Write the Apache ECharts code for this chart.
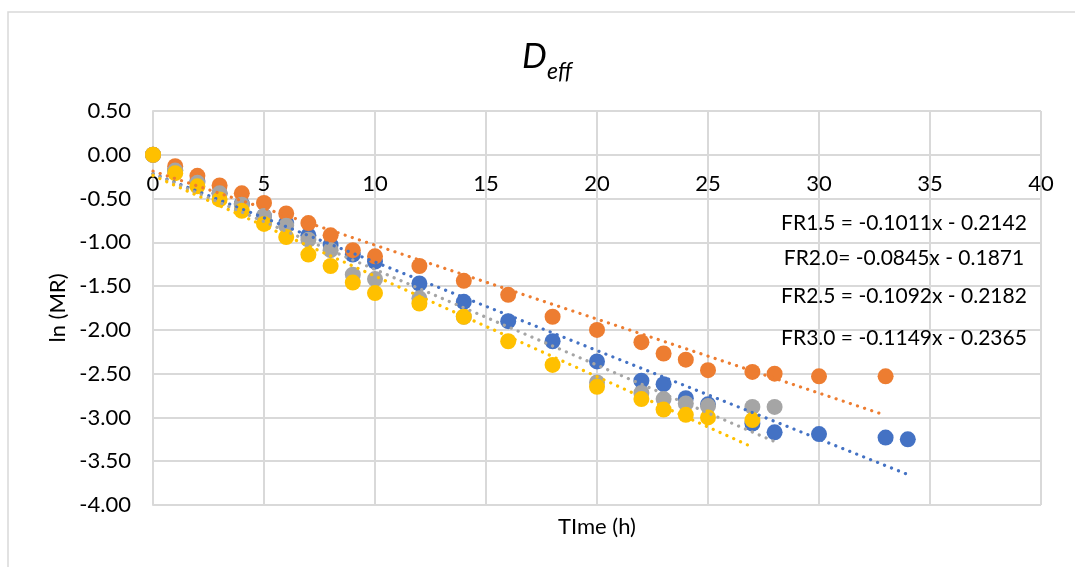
<!DOCTYPE html>
<html>
<head>
<meta charset="utf-8">
<script src="https://cdn.jsdelivr.net/npm/echarts@6/dist/echarts.min.js"></script>
<style>
  html, body { margin: 0; padding: 0; background: #ffffff; }
  #chart { width: 1075px; height: 567px; }
</style>
</head>
<body>
<div id="chart"></div>
<script>
// Drying runs: ln(MR) against time for four flow rates
const seriesNames = ['FR1.5', 'FR2.0', 'FR2.5', 'FR3.0'];
const seriesColors = ['#4472C4', '#ED7D31', '#A5A5A5', '#FFC000'];

const timeFR15 = [0, 1, 2, 3, 4, 5, 6, 7, 8, 9, 10, 12, 14, 16, 18, 20, 22, 23, 24, 25, 27, 28, 30, 33, 34];
const lnMRFR15 = [0, -0.18, -0.30, -0.44, -0.56, -0.70, -0.78, -0.92, -1.03, -1.14, -1.22, -1.47, -1.68, -1.90, -2.13, -2.36, -2.58, -2.62, -2.78, -2.85, -3.07, -3.17, -3.19, -3.23, -3.25];

const timeFR20 = [0, 1, 2, 3, 4, 5, 6, 7, 8, 9, 10, 12, 14, 16, 18, 20, 22, 23, 24, 25, 27, 28, 30, 33];
const lnMRFR20 = [0, -0.13, -0.24, -0.35, -0.44, -0.55, -0.67, -0.78, -0.92, -1.09, -1.16, -1.27, -1.44, -1.60, -1.85, -2.00, -2.14, -2.27, -2.34, -2.46, -2.48, -2.50, -2.53, -2.53];

const timeFR25 = [0, 1, 2, 3, 4, 5, 6, 7, 8, 9, 10, 12, 14, 20, 22, 23, 24, 25, 27, 28];
const lnMRFR25 = [0, -0.18, -0.32, -0.44, -0.57, -0.70, -0.81, -0.97, -1.09, -1.37, -1.42, -1.64, -1.85, -2.60, -2.72, -2.79, -2.84, -2.87, -2.88, -2.88];

const timeFR30 = [0, 1, 2, 3, 4, 5, 6, 7, 8, 9, 10, 12, 14, 16, 18, 20, 22, 23, 24, 25, 27];
const lnMRFR30 = [0, -0.21, -0.36, -0.51, -0.64, -0.79, -0.94, -1.14, -1.27, -1.46, -1.58, -1.70, -1.85, -2.13, -2.40, -2.65, -2.79, -2.91, -2.97, -3.00, -3.03];

// Linear fits ln(MR) = slope * t + intercept
const fitSlopes = [-0.1011, -0.0845, -0.1092, -0.1149];
const fitIntercepts = [-0.2142, -0.1871, -0.2182, -0.2365];
const equationLabels = [
  'FR1.5 = -0.1011x - 0.2142',
  'FR2.0= -0.0845x - 0.1871',
  'FR2.5 = -0.1092x - 0.2182',
  'FR3.0 = -0.1149x - 0.2365'
];

const xTicks = { min: 0, max: 40, step: 5 };
const yTicks = { min: -4, max: 0.5, step: 0.5 };

const allTimes = [timeFR15, timeFR20, timeFR25, timeFR30];
const allValues = [lnMRFR15, lnMRFR20, lnMRFR25, lnMRFR30];

const FONT = 'Lato, "Noto Sans", sans-serif';
const GRID_COLOR = '#D9D9D9';

const scatterSeries = seriesNames.map((name, i) => ({
  name: name,
  type: 'scatter',
  symbol: 'circle',
  symbolSize: 16,
  itemStyle: { color: seriesColors[i], opacity: 1 },
  data: allTimes[i].map((t, k) => [t, allValues[i][k]]),
  z: 3
}));

const trendSeries = seriesNames.map((name, i) => {
  const tEnd = Math.max.apply(null, allTimes[i]);
  return {
    name: name + ' fit',
    type: 'line',
    showSymbol: false,
    silent: true,
    lineStyle: { color: seriesColors[i], width: 3.2, type: [0.1, 7.4], cap: 'round' },
    data: [[0, fitIntercepts[i]], [tEnd, fitSlopes[i] * tEnd + fitIntercepts[i]]],
    z: 4
  };
});

const equationY = [223, 258, 296, 338];

const chart = echarts.init(document.getElementById('chart'), null, { renderer: 'canvas' });
chart.setOption({
  animation: false,
  backgroundColor: '#ffffff',
  grid: { left: 153, right: 34, top: 111, bottom: 62 },
  xAxis: {
    type: 'value',
    position: 'bottom',
    min: xTicks.min, max: xTicks.max, interval: xTicks.step,
    axisLine: { show: true, onZero: false, lineStyle: { color: GRID_COLOR, width: 2 } },
    axisTick: { show: false },
    axisLabel: { color: '#000', fontFamily: FONT, fontSize: 22, margin: 18 },
    splitLine: { show: true, lineStyle: { color: GRID_COLOR, width: 2 } }
  },
  yAxis: {
    type: 'value',
    min: yTicks.min, max: yTicks.max, interval: yTicks.step,
    name: 'ln (MR)',
    nameLocation: 'middle',
    nameGap: 84,
    nameTextStyle: { color: '#000', fontFamily: FONT, fontSize: 22 },
    axisLine: { show: true, onZero: false, lineStyle: { color: GRID_COLOR, width: 2 } },
    axisTick: { show: false },
    axisLabel: { color: '#000', fontFamily: FONT, fontSize: 22, margin: 22, formatter: v => v.toFixed(2) },
    splitLine: { show: true, lineStyle: { color: GRID_COLOR, width: 2 } }
  },
  series: scatterSeries.concat(trendSeries),
  graphic: [
    {
      type: 'rect', silent: true, z: -10,
      shape: { x: 8, y: 12, width: 1100, height: 600 },
      style: { fill: 'none', stroke: GRID_COLOR, lineWidth: 1.5 }
    },
    {
      type: 'text', left: 522, top: 39, silent: true,
      style: { text: 'D', font: 'italic 35px ' + FONT, fill: '#000' }
    },
    {
      type: 'text', left: 547, top: 60, silent: true,
      style: { text: 'eff', font: 'italic 23px ' + FONT, fill: '#000' }
    },
    {
      type: 'text', silent: true,
      x: 597, y: 527,
      style: { text: 'TIme (h)', font: '22px ' + FONT, fill: '#000', align: 'center', verticalAlign: 'middle' }
    }
  ].concat(equationLabels.map((txt, i) => ({
    type: 'text', silent: true, z: 10,
    x: 904, y: equationY[i],
    style: { text: txt, font: '21px ' + FONT, fill: '#000', align: 'center', verticalAlign: 'middle' }
  })))
});

// Lift the time axis so it crosses the value axis at ln(MR) = 0
const zeroPx = chart.convertToPixel({ yAxisIndex: 0 }, 0);
const minPx = chart.convertToPixel({ yAxisIndex: 0 }, yTicks.min);
chart.setOption({ xAxis: { offset: zeroPx - minPx } });
</script>
</body>
</html>
